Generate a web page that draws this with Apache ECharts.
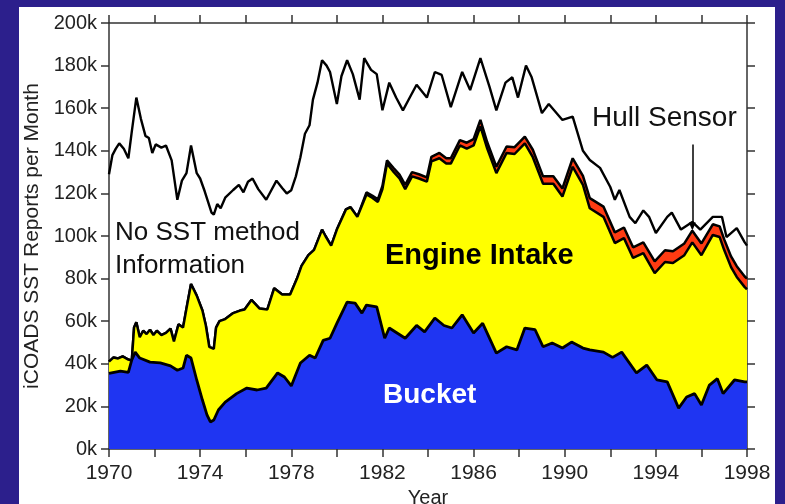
<!DOCTYPE html>
<html><head><meta charset="utf-8">
<script src="https://cdn.jsdelivr.net/npm/echarts@6/dist/echarts.min.js"></script>
<style>
html,body{margin:0;padding:0;background:#2c1f8c;width:785px;height:504px;overflow:hidden}
#panel{position:absolute;left:19px;top:7px;width:756px;height:497px;background:#fff}
#chart{position:absolute;left:0;top:0;width:785px;height:504px}
</style></head><body><div id="panel"></div><div id="chart"></div>
<script>
// Total reports (all methods incl. no-method info), thousands per month
const totalYears = [1970.0,1970.15,1970.3,1970.45,1970.65,1970.85,1971.0,1971.2,1971.4,1971.6,1971.75,1971.9,1972.05,1972.3,1972.5,1972.75,1973.0,1973.2,1973.4,1973.6,1973.85,1974.0,1974.2,1974.5,1974.6,1974.75,1974.9,1975.1,1975.45,1975.7,1975.9,1976.1,1976.3,1976.55,1976.9,1977.1,1977.35,1977.6,1977.8,1978.0,1978.2,1978.4,1978.6,1978.8,1978.95,1979.15,1979.35,1979.55,1979.7,1980.0,1980.2,1980.45,1980.7,1981.0,1981.2,1981.5,1981.75,1982.0,1982.3,1982.6,1982.9,1983.2,1983.5,1983.95,1984.3,1984.6,1985.0,1985.5,1985.85,1986.3,1986.7,1987.0,1987.4,1987.7,1987.95,1988.3,1988.55,1989.0,1989.3,1989.9,1990.35,1990.8,1991.1,1991.55,1992.0,1992.2,1992.4,1992.85,1993.1,1993.45,1993.7,1994.0,1994.5,1994.7,1995.1,1995.6,1995.95,1996.5,1996.9,1997.1,1997.55,1997.9,1998.0];
const totalReports = [129,138,141,143.5,141,136.5,149,165,155,147,146,139,143,141.5,142.5,135.5,117,126,129.5,142.5,129.5,127,121,111,110,115,113,118,121.6,124,120.5,125.5,127,122,117,121,126,122.5,120,121.5,128,137,148,152,164,172,182.5,180,177,162,175,182.5,176,164,183.5,178,176,159,172,165,159,165,171,165,177,175.6,160.5,177,168.5,183.5,170,159,172,174.5,165,180,174.5,157.7,162,154.5,156,140,135.7,132,123,117,121.6,109,106,112,109,101.4,109,111,103,106.6,103,109,109,99.5,103.7,97,95.5];

// Cumulative top of Engine Intake band (bucket + engine)
const engineYears = [1970.0,1970.2,1970.4,1970.6,1970.85,1971.0,1971.1,1971.2,1971.35,1971.5,1971.65,1971.8,1971.95,1972.1,1972.3,1972.5,1972.7,1972.85,1973.05,1973.25,1973.4,1973.6,1973.85,1974.1,1974.25,1974.4,1974.6,1974.7,1974.85,1975.1,1975.45,1975.75,1975.95,1976.25,1976.6,1976.95,1977.25,1977.6,1977.95,1978.25,1978.45,1978.75,1979.0,1979.35,1979.5,1979.75,1980.0,1980.4,1980.6,1980.9,1981.3,1981.55,1981.8,1982.0,1982.2,1982.5,1982.75,1983.0,1983.3,1983.6,1983.95,1984.15,1984.5,1984.8,1985.0,1985.4,1985.7,1986.0,1986.3,1986.6,1987.0,1987.45,1987.8,1988.25,1988.6,1989.05,1989.5,1989.9,1990.35,1990.8,1991.1,1991.7,1992.2,1992.6,1993.0,1993.45,1993.95,1994.4,1994.75,1995.25,1995.6,1996.0,1996.5,1996.8,1997.0,1997.3,1997.55,1997.9,1998.0];
const engineTop = [41,43,42.5,43.5,42,41.5,57,59.5,52.5,55.5,54,56,53.5,55.5,53.5,54.5,56.5,50.5,58.5,57,66,77.5,72,65,58,48,47,57,60,61,63.8,65,65.5,70,66,65.5,75.5,72.5,72.5,80,86,91,93.5,103,100,95.5,103,112.5,113.5,109,119.5,118,116,122,134,130,127,122,128,127,125.5,135,136.5,134,134,142.5,141,142.5,151.5,141,129.5,139,138.5,143.5,137,124.5,124.5,118.5,132.5,124,113,109,96.7,99,89.7,92,82.6,87.8,87.3,91,97,91,100.5,99.5,93.4,85.4,80.8,76,75];
// Hull sensor reports (thickness of red band), same years as engineYears
const hullReports = [0,0,0,0,0,0,0,0,0,0,0,0,0,0,0,0,0,0,0,0,0,0,0,0,0,0,0,0,0,0,0,0,0,0,0,0,0,0,0,0,0,0,0,0,0,0,0,0,0,0,1,1,1.2,1.5,1.5,1.8,1.8,2,2,2,2,2.2,2.5,2.5,2.5,2.5,2.8,3,3,3,3,3,3.2,3.2,3.5,3.5,3.5,3.8,4,4.2,4.8,4.8,5,5,5,5,5.5,5.5,5.5,5.5,5.5,5.5,5,5,5,5,5,5,5];

// Bucket reports
const bucketYears = [1970.0,1970.05,1970.5,1970.85,1971.0,1971.15,1971.35,1971.8,1972.25,1972.7,1973.0,1973.25,1973.4,1973.6,1973.85,1974.1,1974.3,1974.45,1974.6,1974.8,1975.1,1975.6,1976.05,1976.5,1976.9,1977.4,1977.7,1978.0,1978.4,1978.8,1979.05,1979.4,1979.7,1980.0,1980.45,1980.8,1981.1,1981.3,1981.75,1982.1,1982.3,1983.0,1983.5,1983.85,1984.3,1984.7,1985.05,1985.5,1986.0,1986.4,1987.0,1987.45,1987.9,1988.25,1988.7,1989.05,1989.45,1989.9,1990.3,1990.8,1991.1,1991.7,1992.1,1992.5,1993.15,1993.6,1994.05,1994.5,1995.0,1995.35,1995.7,1996.0,1996.35,1996.7,1996.95,1997.45,1997.9,1998.0];
const bucketReports = [35.5,35.7,36.6,36,41.8,45.5,42.7,40.8,40.4,39,37,38,44,42.7,32.4,23,16,12.7,13.6,18.3,22,26,28.6,27.7,28.6,35.7,33.8,29.6,40.4,44,42.7,51,52,59,69,68.5,63.8,67.6,66.7,52,56.8,52,58,55,61.5,58,56.8,63,54.5,59,45,48,46.5,56.8,56,48,49.8,47.4,50.2,47.4,46.5,45.5,43,45.5,35.7,39.4,32.4,31.5,19.2,24.4,26,20.7,30,33,26,32.4,31.5,31.5];

const yTicks = [0,20,40,60,80,100,120,140,160,180,200];

const zip = (xs, ys) => xs.map((x, i) => [x, ys[i]]);
const hullTop = engineTop.map((v, i) => v + hullReports[i]);

const FONT = '"Liberation Sans", Arial, Helvetica, sans-serif';
const axisCol = '#333';

const chart = echarts.init(document.getElementById('chart'), null, {renderer: 'canvas'});
chart.setOption({
  animation: false,
  backgroundColor: 'transparent',
  grid: {left: 109, right: 38, top: 23, bottom: 55, containLabel: false, outerBoundsMode: 'none'},
  xAxis: [{
    type: 'value', min: 1970, max: 1998, interval: 2,
    name: 'Year', nameLocation: 'middle', nameGap: 31,
    nameTextStyle: {fontFamily: FONT, fontSize: 20, color: '#222'},
    axisLine: {show: true, onZero: false, lineStyle: {color: axisCol, width: 1.5}},
    axisTick: {show: true, inside: false, length: 8, lineStyle: {color: axisCol, width: 1.5}},
    axisLabel: {margin: 14, fontFamily: FONT, fontSize: 21, color: '#222',
      formatter: v => ((v - 1970) % 4 === 0 ? String(v) : '')},
    splitLine: {show: false}
  }, {
    type: 'value', position: 'top', min: 1970, max: 1998, interval: 2,
    axisLine: {show: true, onZero: false, lineStyle: {color: axisCol, width: 1.5}},
    axisTick: {show: true, inside: false, length: 8, lineStyle: {color: axisCol, width: 1.5}},
    axisLabel: {show: false}, splitLine: {show: false}
  }],
  yAxis: [{
    type: 'value', min: 0, max: 200, interval: 20,
    name: 'iCOADS SST Reports per Month', nameLocation: 'middle', nameGap: 60,
    nameTextStyle: {fontFamily: FONT, fontSize: 21, color: '#222'},
    axisLine: {show: true, onZero: false, lineStyle: {color: axisCol, width: 1.5}},
    axisTick: {show: true, inside: false, length: 8, lineStyle: {color: axisCol, width: 1.5}},
    axisLabel: {margin: 12, fontFamily: FONT, fontSize: 20, color: '#222',
      formatter: v => (yTicks.indexOf(v) >= 0 ? v + 'k' : '')},
    splitLine: {show: false}
  }, {
    type: 'value', position: 'right', min: 0, max: 200, interval: 20,
    axisLine: {show: true, onZero: false, lineStyle: {color: axisCol, width: 1.5}},
    axisTick: {show: true, inside: false, length: 8, lineStyle: {color: axisCol, width: 1.5}},
    axisLabel: {show: false}, splitLine: {show: false}
  }],
  series: [
    {
      name: 'Hull Sensor', type: 'line', data: zip(engineYears, hullTop),
      showSymbol: false, symbol: 'none', z: 2,
      lineStyle: {color: '#000', width: 2.5},
      areaStyle: {color: '#ff3b12', opacity: 1, origin: 'start'}
    },
    {
      name: 'Engine Intake', type: 'line', data: zip(engineYears, engineTop),
      showSymbol: false, symbol: 'none', z: 3,
      lineStyle: {color: '#000', width: 2.5},
      areaStyle: {color: '#ffff00', opacity: 1, origin: 'start'}
    },
    {
      name: 'Bucket', type: 'line', data: zip(bucketYears, bucketReports),
      showSymbol: false, symbol: 'none', z: 4,
      lineStyle: {color: '#000', width: 2.8},
      areaStyle: {color: '#1f35f2', opacity: 1, origin: 'start'}
    },
    {
      name: 'All reports', type: 'line', data: zip(totalYears, totalReports),
      showSymbol: false, symbol: 'none', z: 5,
      lineStyle: {color: '#000', width: 2.4},
      markLine: {
        silent: true, symbol: ['none', 'triangle'], symbolSize: [7, 8],
        label: {show: false},
        lineStyle: {color: '#000', width: 1.5, type: 'solid'},
        data: [[{coord: [1995.6, 143]}, {coord: [1995.6, 104.5]}]]
      }
    }
  ],
  graphic: [
    {type: 'text', x: 115, y: 233, z: 100, style: {text: 'No SST method', font: '26px ' + FONT, fill: '#111', verticalAlign: 'middle', align: 'left'}},
    {type: 'text', x: 115, y: 266, z: 100, style: {text: 'Information', font: '26px ' + FONT, fill: '#111', verticalAlign: 'middle', align: 'left'}},
    {type: 'text', x: 592, y: 118, z: 100, style: {text: 'Hull Sensor', font: '28px ' + FONT, fill: '#111', verticalAlign: 'middle', align: 'left'}},
    {type: 'text', x: 385, y: 256, z: 100, style: {text: 'Engine Intake', font: 'bold 29px ' + FONT, fill: '#000', verticalAlign: 'middle', align: 'left'}},
    {type: 'text', x: 383, y: 395, z: 100, style: {text: 'Bucket', font: 'bold 28px ' + FONT, fill: '#fff', verticalAlign: 'middle', align: 'left'}}
  ]
});
</script>
</body></html>
